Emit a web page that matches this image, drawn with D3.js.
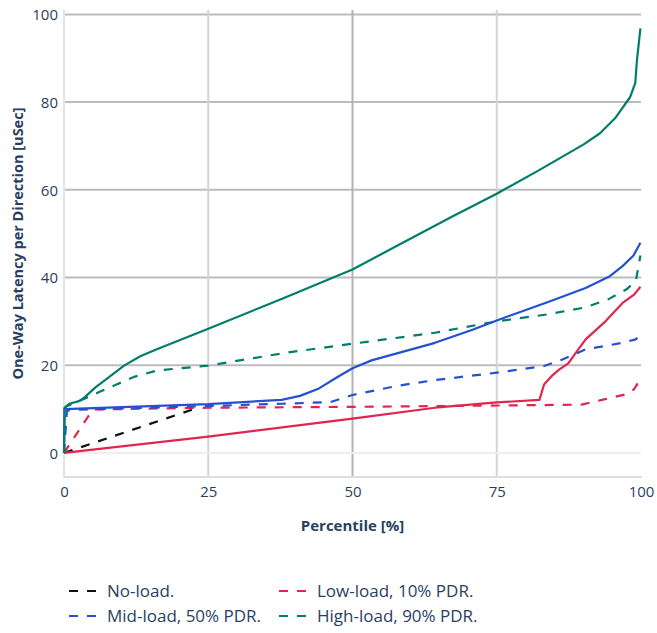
<!DOCTYPE html>
<html>
<head>
<meta charset="utf-8">
<script src="https://cdn.jsdelivr.net/npm/d3@7"></script>
<style>
  html, body { margin: 0; padding: 0; background: #fff; }
  svg { display: block; font-family: "Open Sans", sans-serif; }
</style>
</head>
<body>
<div id="chart"></div>
<script>
// ---- data (percentile [%], latency [uSec]) ----
const xTicks = [0, 25, 50, 75, 100];
const yTicks = [0, 20, 40, 60, 80, 100];
const xTitle = "Percentile [%]";
const yTitle = "One-Way Latency per Direction [uSec]";

const legendLabels = ["No-load.", "Low-load, 10% PDR.", "Mid-load, 50% PDR.", "High-load, 90% PDR."];
const seriesColors = ["#111111", "#e0264e", "#2451d1", "#007d6b"];

// dashed series
const noLoadX = [0, 23, 23.6];
const noLoadY = [0, 10.2, 10.3];

const lowDashX = [0, 5, 25, 50, 75, 89.7, 93.6, 97.5, 98.8, 99.9];
const lowDashY = [0, 9.9, 10.3, 10.5, 10.8, 11, 12.2, 13.4, 14.5, 16.9];

const midDashX = [0, 0.5, 1, 25, 37.7, 46.2, 50, 57.8, 64.3, 75, 83.2, 86.4, 90.4, 96.8, 99.1, 99.9];
const midDashY = [0, 9.5, 9.8, 10.7, 11.2, 11.6, 13.2, 15.3, 16.6, 18.3, 19.8, 21.3, 23.6, 25.1, 25.9, 27];

const highDashX = [0, 0.4, 2.6, 5.8, 9.1, 12.3, 16.2, 25, 38.3, 50, 64.3, 75, 83.9, 90.4, 94.3, 97.5, 99.1, 99.9];
const highDashY = [10, 10.6, 11.8, 13.7, 15.6, 17.4, 18.8, 19.9, 22.8, 24.9, 27.4, 30, 31.6, 33.2, 35, 37.3, 39.2, 45];

// solid series
const lowSolidX = [0, 25, 50, 64.3, 75, 82.4, 83.2, 84.5, 85.8, 87.4, 88.7, 90.4, 93.6, 96.8, 98.8, 99.9];
const lowSolidY = [0, 3.7, 7.8, 10.3, 11.5, 12.1, 15.6, 17.5, 19, 20.4, 22.8, 25.9, 29.7, 34.2, 36.1, 37.9];

const midSolidX = [0, 0.1, 25, 37.7, 40.9, 44.2, 47.4, 50, 53.3, 64.3, 70.8, 75, 83.9, 90.4, 94.6, 96.8, 98.7, 99.9];
const midSolidY = [0, 10, 11.1, 12.1, 13, 14.7, 17.3, 19.3, 21.1, 25.1, 28.1, 30.2, 34.4, 37.6, 40.3, 42.6, 45, 47.9];

const highSolidX = [0, 0.1, 0.9, 2.6, 3.5, 5.5, 7.8, 10.4, 13.3, 16.2, 25, 37.7, 50, 57.8, 67.3, 75, 82.5, 90, 92.9, 95.5, 98.1, 99, 99.3, 99.9];
const highSolidY = [0, 10.3, 11.2, 11.8, 12.6, 15, 17.3, 19.9, 22.1, 23.7, 28.3, 35.1, 41.8, 47.3, 53.9, 59.1, 64.6, 70.3, 72.9, 76.3, 81.1, 84.3, 89.6, 96.8];

const dashedSeries = [
  { xs: noLoadX, ys: noLoadY, color: seriesColors[0] },
  { xs: lowDashX, ys: lowDashY, color: seriesColors[1] },
  { xs: midDashX, ys: midDashY, color: seriesColors[2] },
  { xs: highDashX, ys: highDashY, color: seriesColors[3] }
];
const solidSeries = [
  { xs: lowSolidX, ys: lowSolidY, color: seriesColors[1] },
  { xs: midSolidX, ys: midSolidY, color: seriesColors[2] },
  { xs: highSolidX, ys: highSolidY, color: seriesColors[3] }
];

// ---- layout ----
const W = 657, H = 633;
const pL = 64, pR = 641, pT = 10, pB = 477;

const x = d3.scaleLinear().domain([0, 100]).range([pL, pR]);
const y = d3.scaleLinear().domain([-5.5, 101]).range([pB, pT]);

const svg = d3.select("#chart").append("svg").attr("width", W).attr("height", H);
const textColor = "#2a3f5f";

// horizontal gridlines
svg.append("g").selectAll("line").data(yTicks.filter(d => d !== 0)).join("line")
  .attr("x1", pL).attr("x2", pR)
  .attr("y1", d => y(d)).attr("y2", d => y(d))
  .attr("stroke", "#bcbcbc").attr("stroke-width", 2);

// vertical gridlines
svg.append("g").selectAll("line").data(xTicks.filter(d => d !== 0 && d !== 100)).join("line")
  .attr("x1", d => x(d)).attr("x2", d => x(d))
  .attr("y1", pT).attr("y2", pB)
  .attr("stroke", d => d === 50 ? "#b4b4b4" : "#d4d4d4").attr("stroke-width", 2);

// zero lines
svg.append("line").attr("x1", pL).attr("x2", pR).attr("y1", y(0)).attr("y2", y(0))
  .attr("stroke", "#eeeeee").attr("stroke-width", 2);
svg.append("line").attr("x1", x(0)).attr("x2", x(0)).attr("y1", pT).attr("y2", pB)
  .attr("stroke", "#e4e4e4").attr("stroke-width", 2);

// bottom axis line
svg.append("line").attr("x1", pL - 1).attr("x2", pR + 1).attr("y1", pB).attr("y2", pB)
  .attr("stroke", "#dddddd").attr("stroke-width", 2);

// tick labels via axes
const xAxis = d3.axisBottom(x).tickValues(xTicks).tickSize(0).tickPadding(0).tickFormat(d3.format("d"));
const gx = svg.append("g").attr("transform", `translate(0,${pB})`).call(xAxis);
gx.select(".domain").remove();
gx.selectAll("text").attr("dy", null).attr("y", 20).attr("fill", textColor)
  .style("font-size", "15px").style("font-family", "'Open Sans', sans-serif");

const yAxis = d3.axisLeft(y).tickValues(yTicks).tickSize(0).tickPadding(0).tickFormat(d3.format("d"));
const gy = svg.append("g").attr("transform", `translate(${pL},0)`).call(yAxis);
gy.select(".domain").remove();
gy.selectAll("text").attr("x", -6).attr("dy", "0.35em").attr("fill", textColor)
  .style("font-size", "15px").style("font-family", "'Open Sans', sans-serif");

// axis titles
svg.append("text").attr("x", (pL + pR) / 2).attr("y", 531)
  .attr("text-anchor", "middle").attr("fill", textColor)
  .style("font-size", "15px").style("font-weight", "bold").text(xTitle);
svg.append("text")
  .attr("transform", `translate(23,${(pT + pB) / 2}) rotate(-90)`)
  .attr("text-anchor", "middle").attr("fill", textColor)
  .style("font-size", "14.5px").style("font-weight", "bold").text(yTitle);

// lines
const line = d3.line().x(d => x(d[0])).y(d => y(d[1]));
const zipXY = s => s.xs.map((v, i) => [v, s.ys[i]]);

svg.append("g").selectAll("path").data(dashedSeries).join("path")
  .attr("d", s => line(zipXY(s)))
  .attr("fill", "none").attr("stroke", s => s.color)
  .attr("stroke-width", 2.2).attr("stroke-dasharray", "9,9").attr("stroke-linejoin", "round");

svg.append("g").selectAll("path").data(solidSeries).join("path")
  .attr("d", s => line(zipXY(s)))
  .attr("fill", "none").attr("stroke", s => s.color)
  .attr("stroke-width", 2.2).attr("stroke-linejoin", "round");

// legend
const legendPos = [[64, 591], [274, 591], [64, 616], [274, 616]];
const lg = svg.append("g").selectAll("g").data(legendLabels).join("g")
  .attr("transform", (d, i) => `translate(${legendPos[i][0]},${legendPos[i][1]})`);
lg.append("line").attr("x1", 5).attr("x2", 35).attr("y1", 0).attr("y2", 0)
  .attr("stroke", (d, i) => seriesColors[i]).attr("stroke-width", 2.2).attr("stroke-dasharray", "9,9");
lg.append("text").attr("x", 43).attr("y", 0).attr("dy", "0.35em").attr("fill", textColor)
  .style("font-size", "17px").text(d => d);
</script>
</body>
</html>
